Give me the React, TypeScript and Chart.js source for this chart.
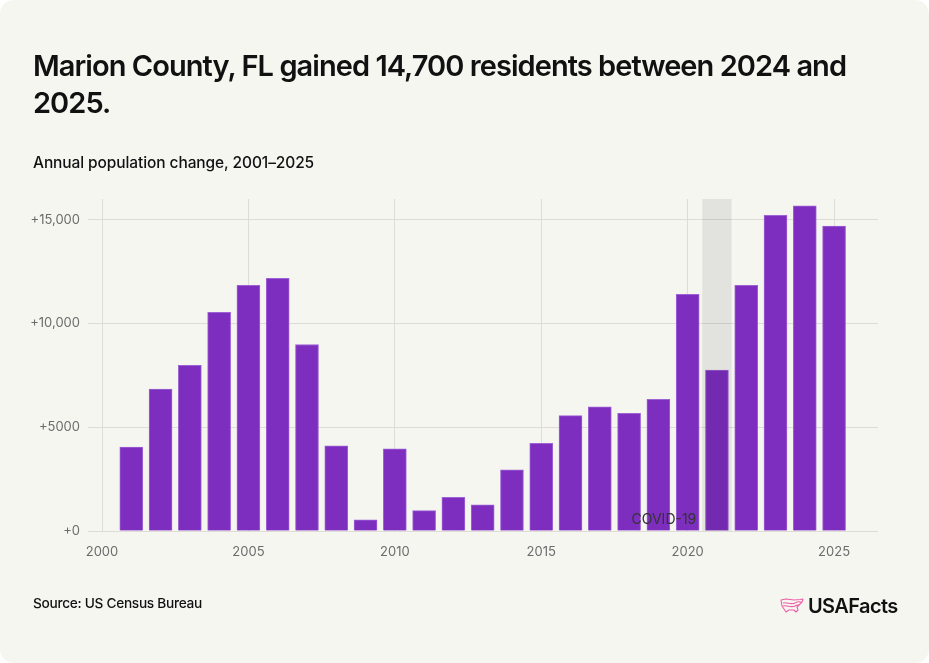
import React, { useEffect, useRef } from "react";
import { Chart, registerables } from "chart.js";

Chart.register(...registerables);

// Annual population change, Marion County, FL
const years = [
  2001, 2002, 2003, 2004, 2005, 2006, 2007, 2008, 2009, 2010, 2011, 2012, 2013,
  2014, 2015, 2016, 2017, 2018, 2019, 2020, 2021, 2022, 2023, 2024, 2025,
];
const changes = [
  4040, 6840, 7980, 10540, 11840, 12180, 8990, 4100, 540, 3960, 980, 1620, 1260,
  2950, 4230, 5560, 5990, 5670, 6350, 11410, 7750, 11840, 15210, 15670, 14700,
];
const xTicks = [2000, 2005, 2010, 2015, 2020, 2025];
const yTicks = [0, 5000, 10000, 15000];
const covidYear = 2021;
const covidLabel = "COVID-19";

const W = 929;
const H = 663;
const BAR = "#7e2ebf";
const GRID = "#dddcd8";
const TICK_COLOR = "#6b6b6b";
const FONT = "Inter, 'Noto Sans', sans-serif";

const fmtTick = (v: number) =>
  "+" + (Math.abs(v) >= 10000 ? v.toLocaleString("en-US") : String(v));

const covidBand = {
  id: "covidBand",
  afterDatasetsDraw(chart: any) {
    const { ctx, chartArea, scales } = chart;
    const x0 = scales.x.getPixelForValue(covidYear - 0.5);
    const x1 = scales.x.getPixelForValue(covidYear + 0.5);
    ctx.save();
    ctx.fillStyle = "rgba(0,0,0,0.08)";
    ctx.fillRect(x0, chartArea.top, x1 - x0, chartArea.bottom - chartArea.top);
    ctx.fillStyle = "#333333";
    ctx.font = `14px ${FONT}`;
    ctx.textAlign = "right";
    ctx.textBaseline = "alphabetic";
    ctx.fillText(covidLabel, x0 - 6, chartArea.bottom - 7);
    ctx.restore();
  },
};

function PopulationChart() {
  const ref = useRef<HTMLCanvasElement>(null);
  useEffect(() => {
    if (!ref.current) return;
    const chart = new Chart(ref.current, {
      type: "bar",
      data: {
        datasets: [
          {
            data: years.map((y, i) => ({ x: y, y: changes[i] })),
            backgroundColor: BAR,
            borderColor: "#9d62d6",
            borderWidth: 1,
            barThickness: 23,
          },
        ],
      },
      options: {
        animation: false,
        responsive: false,
        devicePixelRatio: 1,
        layout: { padding: { top: 199, right: 51, left: 0, bottom: 0 } },
        plugins: {
          legend: { display: false },
          tooltip: { enabled: false },
          title: { display: false },
        },
        scales: {
          x: {
            type: "linear",
            min: 2000,
            max: 2026.5,
            offset: false,
            afterBuildTicks: (s: any) => {
              s.ticks = xTicks.map((v) => ({ value: v }));
            },
            afterFit: (s: any) => {
              s.height = H - 531;
            },
            grid: { color: GRID, drawTicks: false, offset: false },
            border: { display: false },
            ticks: {
              color: TICK_COLOR,
              font: { family: FONT, size: 13 },
              padding: 13,
              maxRotation: 0,
              callback: (v: any) => String(v),
            },
          },
          y: {
            min: 0,
            max: 16000,
            afterBuildTicks: (s: any) => {
              s.ticks = yTicks.map((v) => ({ value: v }));
            },
            afterFit: (s: any) => {
              s.width = 102;
            },
            grid: { color: GRID, drawTicks: true, tickLength: 14 },
            border: { display: false },
            ticks: {
              color: TICK_COLOR,
              font: { family: FONT, size: 13 },
              padding: 8,
              callback: (v: any) => fmtTick(Number(v)),
            },
          },
        },
      },
      plugins: [covidBand],
    });
    return () => chart.destroy();
  }, []);
  return (
    <canvas
      ref={ref}
      width={W}
      height={H}
      style={{ position: "absolute", left: 0, top: 0, width: W, height: H }}
    />
  );
}

function Logo() {
  return (
    <div
      style={{
        position: "absolute",
        left: 780,
        top: 594,
        display: "flex",
        alignItems: "center",
        gap: 4,
      }}
    >
      <svg width="24" height="18" viewBox="0 0 24 18">
        <g fill="none" stroke="#ec5fa6" strokeWidth="1.1" strokeLinejoin="round">
          <path d="M1 3 L6 2 L14 3 L20 2.5 L23 2 L22 5 L19 8 L17 10 L18 13 L16 15 L14 13 L9 13 L6 15 L4 12 L2 9 Z" />
          <path d="M3 6 C7 5 11 8 15 6 S20 5 21 5" />
          <path d="M3 9 C7 8 11 11 15 9 S18 9 19 8" />
        </g>
      </svg>
      <span
        style={{
          fontFamily: FONT,
          fontWeight: 600,
          fontSize: 20,
          letterSpacing: -0.6,
          color: "#111",
        }}
      >
        USAFacts
      </span>
    </div>
  );
}

export default function App() {
  return (
    <div
      style={{
        position: "fixed",
        left: 0,
        top: 0,
        width: W,
        height: H,
        background: "#ffffff",
      }}
    >
      <div
        style={{
          position: "absolute",
          inset: 0,
          background: "#f6f6f1",
          borderRadius: 14,
          overflow: "hidden",
        }}
      >
        <PopulationChart />
        <div
          style={{
            position: "absolute",
            left: 33,
            top: 48,
            width: 835,
            fontFamily: FONT,
            fontWeight: 600,
            fontSize: 29,
            lineHeight: "36.5px",
            letterSpacing: -0.95,
            color: "#111",
          }}
        >
          Marion County, FL gained 14,700 residents between 2024 and 2025.
        </div>
        <div
          style={{
            position: "absolute",
            left: 33,
            top: 153,
            fontFamily: FONT,
            fontWeight: 500,
            fontSize: 15.5,
            letterSpacing: -0.1,
            color: "#111",
          }}
        >
          Annual population change, 2001–2025
        </div>
        <div
          style={{
            position: "absolute",
            left: 33,
            top: 595,
            fontFamily: FONT,
            fontWeight: 500,
            fontSize: 13.7,
            letterSpacing: -0.3,
            color: "#111",
          }}
        >
          Source: US Census Bureau
        </div>
        <Logo />
      </div>
    </div>
  );
}
